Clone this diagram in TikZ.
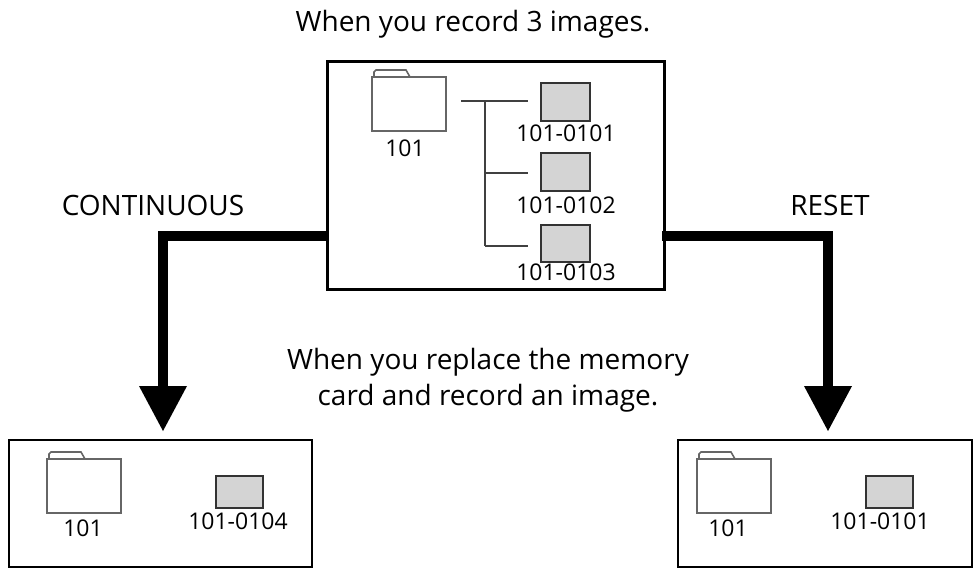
\documentclass[tikz,border=0pt]{standalone}
\usepackage{fontspec}
\setmainfont{Open Sans}
\begin{document}
\begin{tikzpicture}[x=1pt,y=-1pt,
  box/.style={draw,line width=3pt},
  file/.style={draw=black!80,fill=black!17,line width=1.6pt},
  folder/.style={draw=black!60,fill=white,line width=1.6pt},
  lbl/.style={font=\fontsize{23}{25}\selectfont,inner sep=0pt},
  txt/.style={font=\fontsize{28}{36}\selectfont,inner sep=0pt,align=center},
  tree/.style={draw=black!75,line width=1.6pt},
  thick arrow/.style={line width=10pt},
  head/.style={fill=black}]
\useasboundingbox (0,0) rectangle (976,568);
\newcommand\myfolder[2]{%
  \draw[folder] (#1+2,#2+7) -- (#1+2,#2+2) -- (#1+4,#2) -- (#1+34,#2) -- (#1+38,#2+7);
  \draw[folder] (#1,#2+7) rectangle (#1+74,#2+61);}
% top
\node[txt] (t1) at (473,24) {When you record 3 images.};
\draw[box] (327,61) rectangle (664,289);
\myfolder{372}{70}
\node[lbl] (f1) at (405,148) {101};
\coordinate (ta) at (461,101); \coordinate (tb) at (528,101);
\coordinate (tv) at (485,101); \coordinate (tv2) at (485,246);
\coordinate (tc) at (528,173); \coordinate (td) at (528,246);
\draw[tree] (ta) -- (tb); \draw[tree] (tv) -- (tv2);
\draw[tree] (485,173) -- (tc); \draw[tree] (tv2) -- (td);
\draw[file] (541,83) rectangle (590,121);
\draw[file] (541,153) rectangle (590,191);
\draw[file] (541,225) rectangle (590,262);
\node[lbl] (a1) at (566,133) {101-0101};
\node[lbl] (a2) at (566,205) {101-0102};
\node[lbl] (a3) at (566,272) {101-0103};
% labels
\node[txt] (c) at (153,205) {CONTINUOUS};
\node[txt] (r) at (830,205) {RESET};
\node[txt] (m) at (488,380) {When you replace the memory\\card and record an image.};
% arrows
\coordinate (l0) at (329,236); \coordinate (l1) at (163,236); \coordinate (l2) at (163,390);
\draw[thick arrow] (l0) -- (158,236);
\draw[thick arrow] (l1) -- (l2);
\fill[head] (139,386) -- (187,386) -- (163,431) -- cycle;
\coordinate (r0) at (662,236); \coordinate (r1) at (828,236); \coordinate (r2) at (828,390);
\draw[thick arrow] (r0) -- (833,236);
\draw[thick arrow] (r1) -- (r2);
\fill[head] (804,386) -- (852,386) -- (828,431) -- cycle;
% bottom left
\draw[line width=2.5pt] (9,440) rectangle (312,567);
\myfolder{47}{452}
\node[lbl] (bl1) at (83,528) {101};
\draw[file] (216,476) rectangle (263,508);
\node[lbl] (bl2) at (238,521) {101-0104};
% bottom right
\draw[line width=2.5pt] (678,440) rectangle (972,567);
\myfolder{697}{452}
\node[lbl] (br1) at (728,528) {101};
\draw[file] (866,476) rectangle (913,508);
\node[lbl] (br2) at (880,521) {101-0101};
\end{tikzpicture}
\end{document}
